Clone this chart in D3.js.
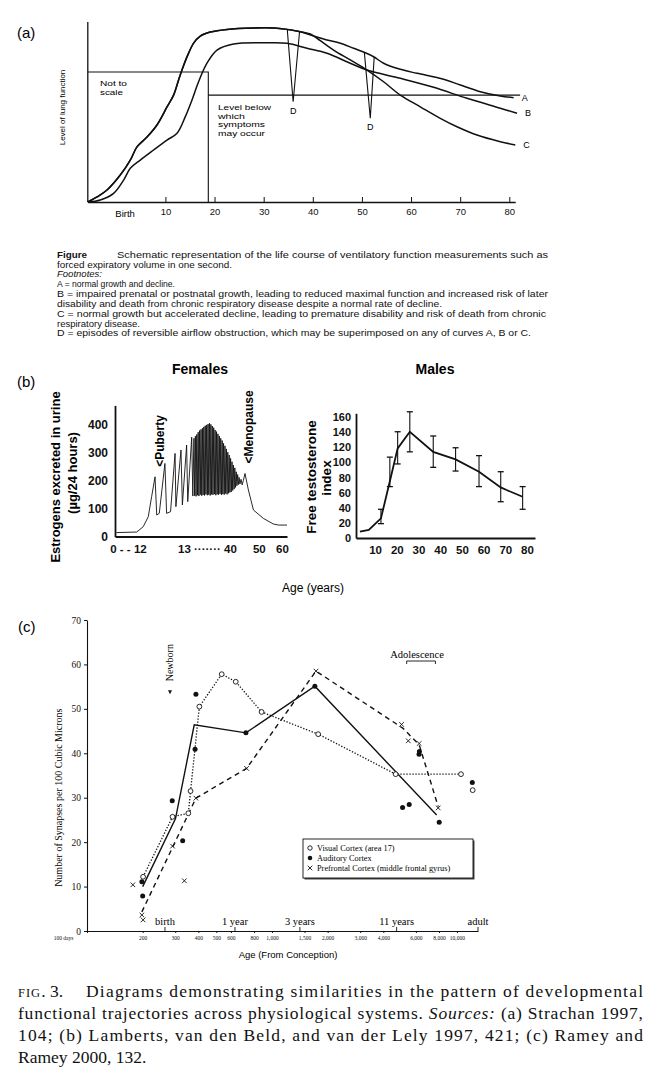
<!DOCTYPE html>
<html>
<head>
<meta charset="utf-8">
<script src="https://cdn.jsdelivr.net/npm/d3@7"></script>
<style>
body { margin: 0; background: #fff; }
svg { display: block; }
</style>
</head>
<body>
<script>
let width = 650
let height = 1084

// ---------- (a) lung function, schematic (age in years, level 0-100) ----------
let lungTicks = [10, 20, 30, 40, 50, 60, 70, 80]
let curveEarly = [[-5.8,0],[-3.93,2.8],[-1.89,6.7],[0.81,15],[2.85,23.3],[4.21,30.6],[6.25,36.1],[8.28,42.8],
    [10.32,52.8],[11.66,59.4],[12.68,67.8],[13.37,73.3],[14.39,80.6],[15.74,88.3],[17.1,92.2],[19.13,94.4],
    [22.53,95.9],[27.95,96.7],[32.02,96.7],[34.75,95.9],[37.46,94.6]]
let curveATail = [[40.16,92.2],[42.89,90],[45.6,88.2],[48.3,85.4],[50.69,82.9],[52.38,80.7],[54.41,77.1],
    [57.81,73.7],[61.21,71.5],[66.63,68.2],[70.03,65],[74.1,61.3],[78.17,58.9],[80.88,57.9]]
let curveCTail = [[39.5,93.3],[41.53,89.6],[44.24,84.4],[47.63,78.9],[51.03,73.3],[54.41,66.8],[57.81,59.4],
    [61.88,52.9],[65.95,46.5],[69.35,41.8],[73.42,37.2],[78.17,33.5],[81.22,31.7]]
let curveB = [[-5.8,0],[-3.26,1.1],[-0.55,4.8],[1.49,12.2],[2.85,18.7],[4.89,23.3],[7.59,28.9],[10.32,34.4],
    [12.36,38.2],[14.05,47.4],[15.41,56.7],[16.75,66.8],[18.46,77.1],[20.5,84.4],[23.88,87.8],[30.68,88.5],
    [34.75,88.2],[38.82,85.4],[42.89,82.6],[47.63,77.1],[51.03,73.3],[57.81,68.7],[64.59,63.7],[71.39,57.6],
    [78.17,52.1],[81.57,49.3]]
let dipOne = [[34.8,95.9],[36.0,55.7],[37.3,94.6]]
let dipTwo = [[50.5,83],[51.7,46.5],[52.5,80.6]]
let notToScaleBox = [[-5.8,72.2],[18.73,72.2],[18.73,0]]
let symptomLevel = [[18.73,59.4],[82.2,59.4]]

// ---------- (b) females: estrogens (schematic age position, µg/24 h) ----------
let femaleTickPos = [4.6, 32.6, 51, 59.2]
let femaleTickText = ["0 - - 12", "13 ······· 40", "50", "60"]
let femaleValueTicks = [0, 100, 200, 300, 400]
let estrogen = [[0.5,14],[7.7,16],[10,35],[11.8,71],[13,143],[14.2,214],[14.8,77],[15.7,83],[17.7,262],
    [18.3,83],[19.7,89],[21.3,298],[21.6,107],[23.4,310],[23.9,113],[25.4,328],[25.8,125],[27.2,356],[27.6,145],
    [28,352],[28.25,146],[28.5,360],[28.75,144],[29,366],[29.25,148],[29.5,374],[29.75,145],[30,380],[30.25,150],
    [30.5,384],[30.75,146],[31,388],[31.25,149],[31.5,393],[31.75,147],[32,397],[32.25,151],[32.5,400],[32.75,148],
    [33,403],[33.25,150],[33.5,406],[33.75,147],[34,402],[34.25,151],[34.5,396],[34.75,149],[35,390],[35.25,152],
    [35.5,382],[35.75,148],[36,376],[36.25,151],[36.5,368],[36.75,150],[37,360],[37.25,153],[37.5,352],[37.75,149],
    [38,344],[38.25,152],[38.5,334],[38.75,150],[39,325],[39.25,154],[39.5,314],[39.75,151],[40,302],[40.25,155],
    [40.5,292],[40.75,158],[41,280],[41.25,160],[41.5,268],[41.75,165],[42,256],[42.25,170],[42.5,246],[42.75,176],
    [43,232],[43.25,182],[43.5,222],[43.75,186],[44,212],[44.3,188],[44.7,205],[45.1,185],[45.5,200],[46.1,226],
    [47.3,167],[49.1,95],[52.6,65],[56.1,45],[58,41],[61,41]]

// ---------- (b) males: free testosterone index ----------
let maleAgeTicks = [10, 20, 30, 40, 50, 60, 70, 80]
let maleValueTicks = [0, 20, 40, 60, 80, 100, 120, 140, 160]
let maleAge = [3, 7.1, 12.7, 16.8, 20.4, 26, 36.8, 47.1, 57.9, 67.9, 70.6, 78]
let maleMean = [8.3, 10.6, 26, 75, 118.6, 140.6, 114, 104, 87.7, 67, 63.5, 54.6]
let maleLow = [null, null, 19, 68, 98, 114, 93.5, 88.6, 68, 48, null, 38]
let maleHigh = [null, null, 38, 107, 140.6, 167, 135, 119.4, 109, 87.7, null, 68]

// ---------- (c) synapse density (days from conception, synapses per 100 µm³) ----------
let dayTicks = [100, 200, 300, 400, 500, 600, 800, 1000, 1500, 2000, 3000, 4000, 6000, 8000, 10000]
let dayTickText = ["100 days", "200", "300", "400", "500", "600", "800", "1,000", "1,500", "2,000", "3,000", "4,000", "6,000", "8,000", "10,000"]
let milestoneDays = [264, 631, 1416, 4720, 13000]
let milestoneText = ["birth", "1 year", "3 years", "11 years", "adult"]
let synapseTicks = [0, 10, 20, 30, 40, 50, 60, 70]
let visualPts = [[201,12.2],[290,25.7],[353,26.5],[363,31.5],[405,50.5],[535,57.8],[637,56.1],[879,49.3],
    [1778,44.3],[4665,35.3],[10520,35.3],[12170,31.7]]
let visualLine = [[201,12.2],[290,25.7],[353,26.5],[363,31.5],[405,50.5],[535,57.8],[637,56.1],[879,49.3],
    [1778,44.3],[4665,35.3],[10520,35.3]]
let auditoryPts = [[198,11.1],[200,7.9],[289,29.3],[329,20.3],[384,40.9],[388,53.3],[723,44.6],[1706,55.1],
    [5083,27.8],[5520,28.5],[6240,39.8],[6270,40.4],[8020,24.5],[12110,33.4]]
let auditoryLine = [[200,10.0],[301,25.3],[380,46.4],[723,44.6],[1706,55.1],[7770,26.1]]
let prefrontalPts = [[177,10.4],[198,3.6],[201,2.5],[290,19.1],[336,11.3],[388,29.9],[729,36.6],[1730,58.5],
    [5020,46.5],[5460,42.8],[6250,42.2],[7920,27.7]]
let prefrontalLine = [[198,4.3],[388,29.9],[729,36.6],[1730,58.5],[5120,45.6],[6250,41.9],[7000,35.3],[7920,28.0]]
let legendText = ["Visual Cortex (area 17)", "Auditory Cortex", "Prefrontal Cortex (middle frontal gyrus)"]
let adolescenceDays = [5350, 7650]

let sans = "'Liberation Sans', Arial, Helvetica, sans-serif"
let narrow = "'Liberation Sans Narrow', 'Liberation Sans', Arial, sans-serif"
let serif = "'Liberation Serif', 'Times New Roman', serif"

let svg = d3.select("body").append("svg")
    .attr("width", width)
    .attr("height", height)
    .style("background", "#fff")

function styleAxis(g, family, size, weight) {
    g.attr("font-family", family).attr("font-size", size).attr("font-weight", weight || "normal")
    g.selectAll("path, line").attr("stroke", "#111")
    g.selectAll("text").attr("fill", "#111")
}

// ======================= (a) =======================
let xA = d3.scaleLinear().domain([-5.8, 81.2]).range([87.8, 515.2])
let yA = d3.scaleLinear().domain([0, 100]).range([202, 22])
let lineA = d3.line().x(d => xA(d[0])).y(d => yA(d[1])).curve(d3.curveCatmullRom.alpha(0.5))
let polyA = d3.line().x(d => xA(d[0])).y(d => yA(d[1]))

let gA = svg.append("g")
svg.append("text").attr("x", 17).attr("y", 38).attr("font-family", sans).attr("font-size", 15).text("(a)")

gA.append("g")
    .attr("transform", `translate(0,${yA(0)})`)
    .call(d3.axisBottom(xA).tickValues(lungTicks).tickSize(-5).tickSizeOuter(0))
    .call(g => styleAxis(g, sans, 9.5))
    .call(g => g.select(".domain").attr("stroke-width", 1.3))
    .call(g => g.selectAll(".tick text").attr("y", 6))
gA.append("text").attr("x", xA(1.8)).attr("y", yA(0) + 15).attr("text-anchor", "middle")
    .attr("font-family", sans).attr("font-size", 9.5).text("Birth")
gA.append("line").attr("x1", xA(-5.8)).attr("x2", xA(-5.8)).attr("y1", yA(0)).attr("y2", yA(100))
    .attr("stroke", "#111").attr("stroke-width", 1.3)
gA.append("text").attr("transform", `translate(65,${yA(52.5)}) rotate(-90)`).attr("text-anchor", "middle")
    .attr("font-family", narrow).attr("font-size", 8).text("Level of lung function")

gA.append("path").attr("d", polyA(notToScaleBox)).attr("fill", "none").attr("stroke", "#111").attr("stroke-width", 1.1)
gA.append("path").attr("d", polyA(symptomLevel)).attr("fill", "none").attr("stroke", "#111").attr("stroke-width", 1.1)

let drawCurve = data => gA.append("path").attr("d", lineA(data))
    .attr("fill", "none").attr("stroke", "#111").attr("stroke-width", 1.5)
drawCurve(curveEarly.concat(curveATail))
drawCurve(curveEarly.concat(curveCTail))
drawCurve(curveB)
gA.append("path").attr("d", polyA(dipOne)).attr("fill", "none").attr("stroke", "#111").attr("stroke-width", 1.1)
gA.append("path").attr("d", polyA(dipTwo)).attr("fill", "none").attr("stroke", "#111").attr("stroke-width", 1.1)

// note text: [text, x, baseline y, stretched width]
let aTexts = [
    ["Not to", 100, 86, 27], ["scale", 100, 95, 23],
    ["Level below", 218, 110, 53], ["which", 218, 118.5, 27], ["symptoms", 218, 127, 47], ["may occur", 218, 135.5, 47]
]
gA.selectAll(".note").data(aTexts).enter().append("text")
    .attr("x", d => d[1]).attr("y", d => d[2]).attr("font-family", sans).attr("font-size", 7.6)
    .attr("textLength", d => d[3]).attr("lengthAdjust", "spacingAndGlyphs").text(d => d[0])
gA.append("text").attr("x", xA(dipOne[1][0])).attr("y", yA(dipOne[1][1]) + 12).attr("text-anchor", "middle")
    .attr("font-family", sans).attr("font-size", 9).text("D")
gA.append("text").attr("x", xA(dipTwo[1][0])).attr("y", yA(dipTwo[1][1]) + 12).attr("text-anchor", "middle")
    .attr("font-family", sans).attr("font-size", 9).text("D")
let ends = [["A", curveATail[curveATail.length - 1]], ["B", curveB[curveB.length - 1]], ["C", curveCTail[curveCTail.length - 1]]]
gA.selectAll(".endlab").data(ends).enter().append("text")
    .attr("x", d => xA(d[1][0]) + 8).attr("y", d => yA(d[1][1]) + 3)
    .attr("font-family", sans).attr("font-size", 9).text(d => d[0])

// footnotes
let fn = svg.append("g").attr("font-family", sans).attr("font-size", 9).attr("fill", "#111")
fn.append("text").attr("x", 57).attr("y", 258).attr("font-weight", "bold").attr("textLength", 30)
    .attr("lengthAdjust", "spacingAndGlyphs").text("Figure")
fn.append("text").attr("x", 117).attr("y", 258).attr("textLength", 431).attr("lengthAdjust", "spacingAndGlyphs")
    .text("Schematic representation of the life course of ventilatory function measurements such as")
let fnLines = [
    ["forced expiratory volume in one second.", 268, 175],
    ["Footnotes:", 277, 45],
    ["A = normal growth and decline.", 287, 118],
    ["B = impaired prenatal or postnatal growth, leading to reduced maximal function and increased risk of later", 297, 491],
    ["disability and death from chronic respiratory disease despite a normal rate of decline.", 307, 385],
    ["C = normal growth but accelerated decline, leading to premature disability and risk of death from chronic", 317, 489],
    ["respiratory disease.", 327, 83],
    ["D = episodes of reversible airflow obstruction, which may be superimposed on any of curves A, B or C.", 336, 474]
]
fnLines.forEach(l => {
    let t = fn.append("text").attr("x", 57).attr("y", l[1]).text(l[0])
        .attr("textLength", l[2]).attr("lengthAdjust", "spacingAndGlyphs")
    if (l[0] === "Footnotes:") t.attr("font-style", "italic")
})

// ======================= (b) =======================
svg.append("text").attr("x", 17).attr("y", 387).attr("font-family", sans).attr("font-size", 15).text("(b)")

let xF = d3.scaleLinear().domain([0, 61]).range([115, 287])
let yF = d3.scaleLinear().domain([0, 470]).range([536.5, 405.4])
let gF = svg.append("g")
gF.append("text").attr("x", 200).attr("y", 374).attr("text-anchor", "middle")
    .attr("font-family", narrow).attr("font-weight", "bold").attr("font-size", 14).text("Females")
gF.append("g").attr("transform", `translate(${xF(0)},0)`)
    .call(d3.axisLeft(yF).tickValues(femaleValueTicks).tickSize(0).tickPadding(7).tickSizeOuter(0))
    .call(g => styleAxis(g, sans, 12, "bold"))
    .call(g => g.select(".domain").attr("stroke-width", 1.8))
gF.append("g").attr("transform", `translate(0,${yF(0)})`)
    .call(d3.axisBottom(xF).tickValues(femaleTickPos).tickFormat((d, i) => femaleTickText[i]).tickSize(0).tickPadding(8).tickSizeOuter(0))
    .call(g => styleAxis(g, sans, 11.5, "bold"))
    .call(g => g.select(".domain").attr("stroke-width", 1.8))
gF.append("path").datum(estrogen)
    .attr("d", d3.line().x(d => xF(d[0])).y(d => yF(d[1])))
    .attr("fill", "none").attr("stroke", "#111").attr("stroke-width", 0.9).attr("stroke-linejoin", "round")
gF.append("text").attr("transform", `translate(${xF(14.2) + 9},${yF(214) - 10}) rotate(-90)`)
    .attr("font-family", sans).attr("font-weight", "bold").attr("font-size", 12).text("<Puberty")
gF.append("text").attr("transform", `translate(${xF(46.1) + 8},${yF(226) - 10}) rotate(-90)`)
    .attr("font-family", sans).attr("font-weight", "bold").attr("font-size", 12).text("<Menopause")
gF.append("text").attr("transform", "translate(60,477) rotate(-90)").attr("text-anchor", "middle")
    .attr("font-family", sans).attr("font-weight", "bold").attr("font-size", 13).text("Estrogens excreted in urine")
gF.append("text").attr("transform", "translate(77,473) rotate(-90)").attr("text-anchor", "middle")
    .attr("font-family", sans).attr("font-weight", "bold").attr("font-size", 13).text("(µg/24 hours)")

let xM = d3.scaleLinear().domain([1.2, 83.7]).range([356, 535])
let yM = d3.scaleLinear().domain([0, 165]).range([538, 413.3])
let gM = svg.append("g")
gM.append("text").attr("x", 435).attr("y", 374).attr("text-anchor", "middle")
    .attr("font-family", narrow).attr("font-weight", "bold").attr("font-size", 14).text("Males")
gM.append("g").attr("transform", `translate(${xM(1.2)},0)`)
    .call(d3.axisLeft(yM).tickValues(maleValueTicks).tickSize(0).tickPadding(5).tickSizeOuter(0))
    .call(g => styleAxis(g, sans, 11, "bold"))
    .call(g => g.select(".domain").attr("stroke-width", 1.8))
gM.append("g").attr("transform", `translate(0,${yM(0)})`)
    .call(d3.axisBottom(xM).tickValues(maleAgeTicks).tickSize(0).tickPadding(8).tickSizeOuter(0))
    .call(g => styleAxis(g, sans, 11.5, "bold"))
    .call(g => g.select(".domain").attr("stroke-width", 1.8))
let maleRows = maleAge.map((a, i) => ({ age: a, mean: maleMean[i], lo: maleLow[i], hi: maleHigh[i] }))
gM.append("path").datum(maleRows)
    .attr("d", d3.line().x(d => xM(d.age)).y(d => yM(d.mean)))
    .attr("fill", "none").attr("stroke", "#111").attr("stroke-width", 1.8)
let bars = gM.selectAll(".err").data(maleRows.filter(d => d.lo !== null)).enter().append("g")
bars.append("line").attr("x1", d => xM(d.age)).attr("x2", d => xM(d.age))
    .attr("y1", d => yM(d.lo)).attr("y2", d => yM(d.hi)).attr("stroke", "#111").attr("stroke-width", 1.1)
bars.append("line").attr("x1", d => xM(d.age) - 3).attr("x2", d => xM(d.age) + 3)
    .attr("y1", d => yM(d.lo)).attr("y2", d => yM(d.lo)).attr("stroke", "#111").attr("stroke-width", 1.3)
bars.append("line").attr("x1", d => xM(d.age) - 3).attr("x2", d => xM(d.age) + 3)
    .attr("y1", d => yM(d.hi)).attr("y2", d => yM(d.hi)).attr("stroke", "#111").attr("stroke-width", 1.3)
gM.append("text").attr("transform", "translate(316,477) rotate(-90)").attr("text-anchor", "middle")
    .attr("font-family", sans).attr("font-weight", "bold").attr("font-size", 13.5).text("Free testosterone")
gM.append("text").attr("transform", "translate(331,478) rotate(-90)").attr("text-anchor", "middle")
    .attr("font-family", sans).attr("font-weight", "bold").attr("font-size", 13.5).text("index")

svg.append("text").attr("x", 313).attr("y", 592).attr("text-anchor", "middle")
    .attr("font-family", sans).attr("font-size", 12).text("Age (years)")

// ======================= (c) =======================
svg.append("text").attr("x", 18).attr("y", 632).attr("font-family", sans).attr("font-size", 15).text("(c)")

let xC = d3.scaleLog().domain([100, 13000]).range([87, 478])
let yC = d3.scaleLinear().domain([0, 70]).range([931, 620])
let gC = svg.append("g")

gC.append("g").attr("transform", `translate(${xC(100)},0)`)
    .call(d3.axisLeft(yC).tickValues(synapseTicks).tickSize(3).tickPadding(3).tickSizeOuter(0))
    .call(g => styleAxis(g, serif, 9.5))
    .call(g => g.select(".domain").attr("stroke-width", 1.1))
gC.append("g").attr("transform", `translate(0,${yC(0)})`)
    .call(d3.axisBottom(xC).tickValues(dayTicks).tickFormat((d, i) => dayTickText[i]).tickSize(2).tickPadding(3).tickSizeOuter(0))
    .call(g => styleAxis(g, serif, 5.5))
    .call(g => g.select(".domain").attr("stroke-width", 1.1))
    .call(g => g.select(".tick text").attr("dx", -24))
gC.selectAll(".ms").data(milestoneDays).enter().append("line")
    .attr("x1", d => xC(d)).attr("x2", d => xC(d)).attr("y1", yC(0)).attr("y2", yC(0) - 4)
    .attr("stroke", "#111").attr("stroke-width", 0.9)
gC.selectAll(".mstext").data(milestoneDays).enter().append("text")
    .attr("x", d => xC(d)).attr("y", yC(0) - 6).attr("text-anchor", "middle")
    .attr("font-family", serif).attr("font-size", 10.5).text((d, i) => milestoneText[i])

gC.append("text").attr("transform", `translate(62,${yC(30)}) rotate(-90)`).attr("text-anchor", "middle")
    .attr("font-family", serif).attr("font-size", 10).text("Number of Synapses per 100 Cubic Microns")
gC.append("text").attr("x", 288).attr("y", 958).attr("text-anchor", "middle")
    .attr("font-family", sans).attr("font-size", 9.5).text("Age (From Conception)")

let lineC = d3.line().x(d => xC(d[0])).y(d => yC(d[1]))
gC.append("path").attr("d", lineC(visualLine)).attr("fill", "none").attr("stroke", "#111")
    .attr("stroke-width", 1.3).attr("stroke-dasharray", "1.3,1.7")
gC.append("path").attr("d", lineC(auditoryLine)).attr("fill", "none").attr("stroke", "#111")
    .attr("stroke-width", 1.4)
gC.append("path").attr("d", lineC(prefrontalLine)).attr("fill", "none").attr("stroke", "#111")
    .attr("stroke-width", 1.4).attr("stroke-dasharray", "5,4")

let cross = "M-2.3,-2.3L2.3,2.3M-2.3,2.3L2.3,-2.3"
gC.selectAll(".vis").data(visualPts).enter().append("circle")
    .attr("cx", d => xC(d[0])).attr("cy", d => yC(d[1])).attr("r", 2.4)
    .attr("fill", "#fff").attr("stroke", "#111").attr("stroke-width", 0.9)
gC.selectAll(".aud").data(auditoryPts).enter().append("circle")
    .attr("cx", d => xC(d[0])).attr("cy", d => yC(d[1])).attr("r", 2.5).attr("fill", "#111")
gC.selectAll(".pre").data(prefrontalPts).enter().append("path")
    .attr("transform", d => `translate(${xC(d[0])},${yC(d[1])})`).attr("d", cross)
    .attr("stroke", "#111").attr("stroke-width", 0.9)

// newborn marker
gC.append("text").attr("transform", `translate(173,${yC(53.5) - 12}) rotate(-90)`)
    .attr("font-family", serif).attr("font-size", 10).text("Newborn")
gC.append("path").attr("transform", `translate(170,${yC(53.5)})`).attr("d", "M-2,-3L2,-3L0,1Z").attr("fill", "#111")

// adolescence bracket
gC.append("text").attr("x", 417).attr("y", 658).attr("text-anchor", "middle")
    .attr("font-family", serif).attr("font-size", 10.5).text("Adolescence")
gC.append("path")
    .attr("d", `M${xC(adolescenceDays[0])},664V661H${xC(adolescenceDays[1])}V664`)
    .attr("fill", "none").attr("stroke", "#111").attr("stroke-width", 0.9)

// legend
let lg = gC.append("g").attr("transform", "translate(303,839)")
lg.append("rect").attr("x", 1.5).attr("y", 1.5).attr("width", 170).attr("height", 39).attr("fill", "#444")
lg.append("rect").attr("width", 170).attr("height", 39).attr("fill", "#fff").attr("stroke", "#111").attr("stroke-width", 0.9)
lg.selectAll(".lt").data(legendText).enter().append("text")
    .attr("x", 14).attr("y", (d, i) => 12 + i * 10).attr("font-family", serif).attr("font-size", 8.3).text(d => d)
lg.append("circle").attr("cx", 7).attr("cy", 9).attr("r", 2.2).attr("fill", "#fff").attr("stroke", "#111").attr("stroke-width", 0.9)
lg.append("circle").attr("cx", 7).attr("cy", 19).attr("r", 2.3).attr("fill", "#111")
lg.append("path").attr("transform", "translate(7,29)").attr("d", cross).attr("stroke", "#111").attr("stroke-width", 0.9)

// ======================= caption =======================
let cap = svg.append("g").attr("font-family", serif).attr("font-size", 17.5).attr("fill", "#111")
let c1 = cap.append("text").attr("x", 18).attr("y", 997)
c1.append("tspan").attr("font-size", 12.5).attr("letter-spacing", 1).text("FIG")
c1.append("tspan").text(". 3.")
cap.append("text").attr("x", 86).attr("y", 997).attr("textLength", 557).attr("lengthAdjust", "spacing")
    .text("Diagrams demonstrating similarities in the pattern of developmental")
let c2 = cap.append("text").attr("x", 18).attr("y", 1019).attr("textLength", 625).attr("lengthAdjust", "spacing")
c2.append("tspan").text("functional trajectories across physiological systems. ")
c2.append("tspan").attr("font-style", "italic").text("Sources:")
c2.append("tspan").text(" (a) Strachan 1997,")
cap.append("text").attr("x", 18).attr("y", 1041).attr("textLength", 625).attr("lengthAdjust", "spacing")
    .text("104; (b) Lamberts, van den Beld, and van der Lely 1997, 421; (c) Ramey and")
cap.append("text").attr("x", 18).attr("y", 1063).text("Ramey 2000, 132.")
</script>
</body>
</html>
